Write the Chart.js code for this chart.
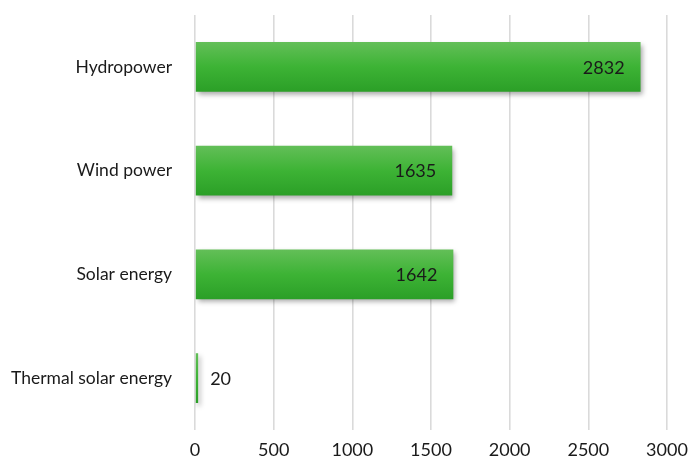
<!DOCTYPE html>
<html>
<head>
<meta charset="utf-8">
<script src="https://cdn.jsdelivr.net/npm/chart.js@4.4.0/dist/chart.umd.min.js"></script>
<style>
  html, body { margin: 0; padding: 0; background: #fff; }
  #wrap { width: 691px; height: 465px; }
</style>
</head>
<body>
<div id="wrap"><canvas id="c" width="691" height="465"></canvas></div>
<script>
const categories = ["Hydropower", "Wind power", "Solar energy", "Thermal solar energy"];
const capacity = [2832, 1635, 1642, 20];
const tickValues = [0, 500, 1000, 1500, 2000, 2500, 3000];

const FONT = "Lato, 'Open Sans', sans-serif";
const BAR_PCT = 0.96, CAT_PCT = 0.5;

// vertical green gradient for each bar, computed from the category scale
function barFill(ctx) {
  const chart = ctx.chart;
  const y = chart.scales.y;
  if (!y || !chart.chartArea) return "#3aae32";
  const center = y.getPixelForValue(ctx.dataIndex);
  const step = (chart.chartArea.bottom - chart.chartArea.top) / categories.length;
  const half = step * BAR_PCT * CAT_PCT / 2;
  const g = chart.ctx.createLinearGradient(0, center - half, 0, center + half);
  g.addColorStop(0, "#63bf58");
  g.addColorStop(0.5, "#3db335");
  g.addColorStop(1, "#2b9f27");
  return g;
}

// soft drop shadow under the bars
const shadowPlugin = {
  id: "barShadow",
  beforeDatasetsDraw(chart) {
    const c = chart.ctx;
    c.save();
    c.shadowColor = "rgba(0,0,0,0.35)";
    c.shadowBlur = 5;
    c.shadowOffsetX = 2;
    c.shadowOffsetY = 3;
  },
  afterDatasetsDraw(chart) {
    chart.ctx.restore();
  }
};

// value labels: inside the bar end, or just outside for short bars
const valueLabels = {
  id: "valueLabels",
  afterDraw(chart) {
    const c = chart.ctx;
    const meta = chart.getDatasetMeta(0);
    c.save();
    c.font = "18px " + FONT;
    c.fillStyle = "#1a1a1a";
    c.textBaseline = "middle";
    meta.data.forEach((bar, i) => {
      const txt = String(capacity[i]);
      const w = c.measureText(txt).width;
      const len = bar.x - bar.base;
      if (len > w + 30) {
        c.textAlign = "right";
        c.fillText(txt, bar.x - 16, bar.y + 1);
      } else {
        c.textAlign = "left";
        c.fillText(txt, bar.x + 12, bar.y + 1);
      }
    });
    c.restore();
  }
};

new Chart(document.getElementById("c"), {
  type: "bar",
  data: {
    labels: categories,
    datasets: [{
      data: capacity,
      backgroundColor: barFill,
      borderWidth: 0,
      barPercentage: BAR_PCT,
      categoryPercentage: CAT_PCT
    }]
  },
  options: {
    indexAxis: "y",
    responsive: false,
    animation: false,
    layout: { padding: { top: 15, right: 24, bottom: 0, left: 0 } },
    plugins: { legend: { display: false }, tooltip: { enabled: false } },
    scales: {
      x: {
        min: 0,
        max: 3000,
        afterBuildTicks(scale) { scale.ticks = tickValues.map(v => ({ value: v })); },
        afterFit(scale) {
          scale.height = 35;
          scale.paddingLeft = 0;
          scale.paddingRight = 0;
        },
        border: { display: false },
        grid: { color: "#dadada", lineWidth: 1.6, drawTicks: false },
        ticks: {
          color: "#1a1a1a",
          font: { family: FONT, size: 18 },
          padding: 9,
          maxRotation: 0,
          callback: (v) => String(v)
        }
      },
      y: {
        afterFit(scale) {
          scale.width = 195;
          scale.paddingTop = 0;
          scale.paddingBottom = 0;
        },
        border: { display: false },
        grid: { display: false, drawTicks: false },
        ticks: { color: "#1a1a1a", font: { family: FONT, size: 17.5 }, padding: 23 }
      }
    }
  },
  plugins: [shadowPlugin, valueLabels]
});
</script>
</body>
</html>
